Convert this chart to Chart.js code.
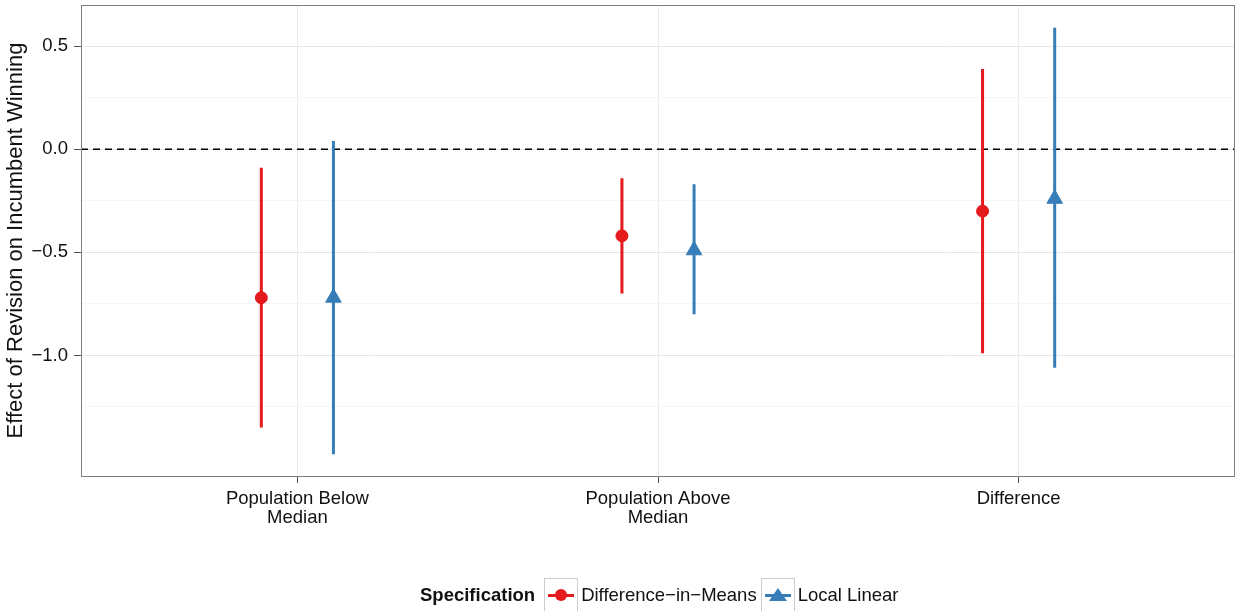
<!DOCTYPE html>
<html>
<head>
<meta charset="utf-8">
<script src="https://cdn.jsdelivr.net/npm/chart.js@4/dist/chart.umd.min.js"></script>
<style>
  body { margin: 0; background: #fff; font-family: "Liberation Sans", Arial, sans-serif; }
  #wrap { position: relative; width: 1236px; height: 611px; }
  #legenda { position: absolute; top: 578px; left: 420px; display: flex; align-items: center; font-size: 18.5px; color: #111; }
  #legenda b { margin-right: 9px; }
  .caixa { position: relative; width: 34px; height: 34px; border: 1px solid #ccc; box-sizing: border-box; margin-right: 3px; }
  .traco { position: absolute; left: 3px; right: 3px; top: 15px; height: 3px; }
  .bola { position: absolute; left: 10px; top: 10px; width: 12px; height: 12px; border-radius: 50%; }
  .tri { position: absolute; left: 7px; top: 9px; width: 0; height: 0; border-left: 9px solid transparent; border-right: 9px solid transparent; border-bottom: 13px solid #377EB8; }
  .item { margin-right: 4px; }
</style>
</head>
<body>
<div id="wrap">
  <canvas id="grafico" width="1236" height="611"></canvas>
  <div id="legenda">
    <b>Specification</b>
    <div class="caixa"><div class="traco" style="background:#E41A1C"></div><div class="bola" style="background:#E41A1C"></div></div>
    <span class="item">Difference−in−Means</span>
    <div class="caixa"><div class="traco" style="background:#377EB8"></div><div class="tri"></div></div>
    <span class="item">Local Linear</span>
  </div>
</div>
<script>
const categorias = [['Population Below', 'Median'], ['Population Above', 'Median'], ['Difference']];
const series = ['Difference−in−Means', 'Local Linear'];

// estimativas e intervalos
const mediasEst = [-0.72, -0.42, -0.30];
const mediasInf = [-1.35, -0.70, -0.99];
const mediasSup = [-0.09, -0.14, 0.39];
const linearEst = [-0.72, -0.49, -0.24];
const linearInf = [-1.48, -0.80, -1.06];
const linearSup = [0.04, -0.17, 0.59];

const ticksY = [0.5, 0, -0.5, -1.0];
const ticksYMenores = [0.25, -0.25, -0.75, -1.25];
const linhaRef = 0;

const vermelho = '#E41A1C';
const azul = '#377EB8';
const deslocamento = 0.1;

function barras(inf, sup, desl) {
    const pts = [];
    inf.forEach((v, i) => {
        const x = i + 1 + desl;
        pts.push({ x: x, y: v }, { x: x, y: sup[i] }, { x: x, y: null });
    });
    return pts;
}

function pontos(est, desl) {
    return est.map((v, i) => ({ x: i + 1 + desl, y: v }));
}

const bordaPainel = {
    id: 'bordaPainel',
    afterDraw(chart) {
        const a = chart.chartArea;
        const ctx = chart.ctx;
        ctx.save();
        ctx.strokeStyle = '#7f7f7f';
        ctx.lineWidth = 1;
        ctx.strokeRect(a.left + 0.5, a.top + 0.5, a.right - a.left - 1, a.bottom - a.top);
        ctx.restore();
    }
};

const fonte = "'Liberation Sans', Arial, sans-serif";

new Chart(document.getElementById('grafico'), {
    type: 'scatter',
    data: {
        datasets: [
            {
                label: series[0] + ' pontos',
                data: pontos(mediasEst, -deslocamento),
                backgroundColor: vermelho,
                borderColor: vermelho,
                pointStyle: 'circle',
                pointRadius: 6,
                borderWidth: 1
            },
            {
                label: series[1] + ' pontos',
                data: pontos(linearEst, deslocamento),
                backgroundColor: azul,
                borderColor: azul,
                pointStyle: 'triangle',
                pointRadius: 9,
                borderWidth: 1
            },
            {
                type: 'line',
                label: series[0],
                data: barras(mediasInf, mediasSup, -deslocamento),
                borderColor: vermelho,
                borderWidth: 3,
                pointRadius: 0,
                spanGaps: false
            },
            {
                type: 'line',
                label: series[1],
                data: barras(linearInf, linearSup, deslocamento),
                borderColor: azul,
                borderWidth: 3,
                pointRadius: 0,
                spanGaps: false
            },
            {
                type: 'line',
                label: 'zero',
                data: [{ x: 0.4, y: linhaRef }, { x: 3.6, y: linhaRef }],
                borderColor: '#000',
                borderWidth: 1.5,
                borderDash: [7, 5],
                pointRadius: 0
            }
        ]
    },
    options: {
        responsive: false,
        animation: false,
        layout: { autoPadding: false, padding: { top: 5, right: 1, left: 0, bottom: 0 } },
        plugins: {
            legend: { display: false },
            tooltip: { enabled: false }
        },
        scales: {
            x: {
                type: 'linear',
                min: 0.4,
                max: 3.6,
                afterBuildTicks(scale) {
                    scale.ticks = categorias.map((c, i) => ({ value: i + 1 }));
                },
                afterFit(scale) {
                    scale.height = 135;
                    scale.paddingLeft = 0;
                    scale.paddingRight = 0;
                },
                ticks: {
                    color: '#111',
                    padding: 6,
                    maxRotation: 0,
                    font: { size: 18.5, family: fonte, lineHeight: '19px' },
                    callback: (v) => categorias[Math.round(v) - 1]
                },
                grid: { color: '#ebebeb', lineWidth: 1, tickLength: 7, tickColor: '#555' },
                border: { display: false }
            },
            y: {
                min: -1.585,
                max: 0.7,
                afterBuildTicks(scale) {
                    scale.ticks = ticksY.concat(ticksYMenores).map(v => ({ value: v }));
                },
                afterFit(scale) {
                    scale.width = 81;
                    scale.paddingTop = 0;
                    scale.paddingBottom = 0;
                },
                title: {
                    display: true,
                    text: 'Effect of Revision on Incumbent Winning',
                    color: '#111',
                    padding: { top: 3, bottom: 0 },
                    font: { size: 22, family: fonte }
                },
                ticks: {
                    color: '#111',
                    padding: 6,
                    font: { size: 18.5, family: fonte },
                    callback: (v) => ticksY.includes(v) ? v.toFixed(1).replace('-', '−') : ''
                },
                grid: {
                    color: (c) => ticksY.includes(c.tick && c.tick.value) ? '#e6e6e6' : '#f5f5f5',
                    tickColor: (c) => ticksY.includes(c.tick && c.tick.value) ? '#555' : 'rgba(0,0,0,0)',
                    tickLength: 7
                },
                border: { display: false }
            }
        }
    },
    plugins: [bordaPainel]
});
</script>
</body>
</html>
